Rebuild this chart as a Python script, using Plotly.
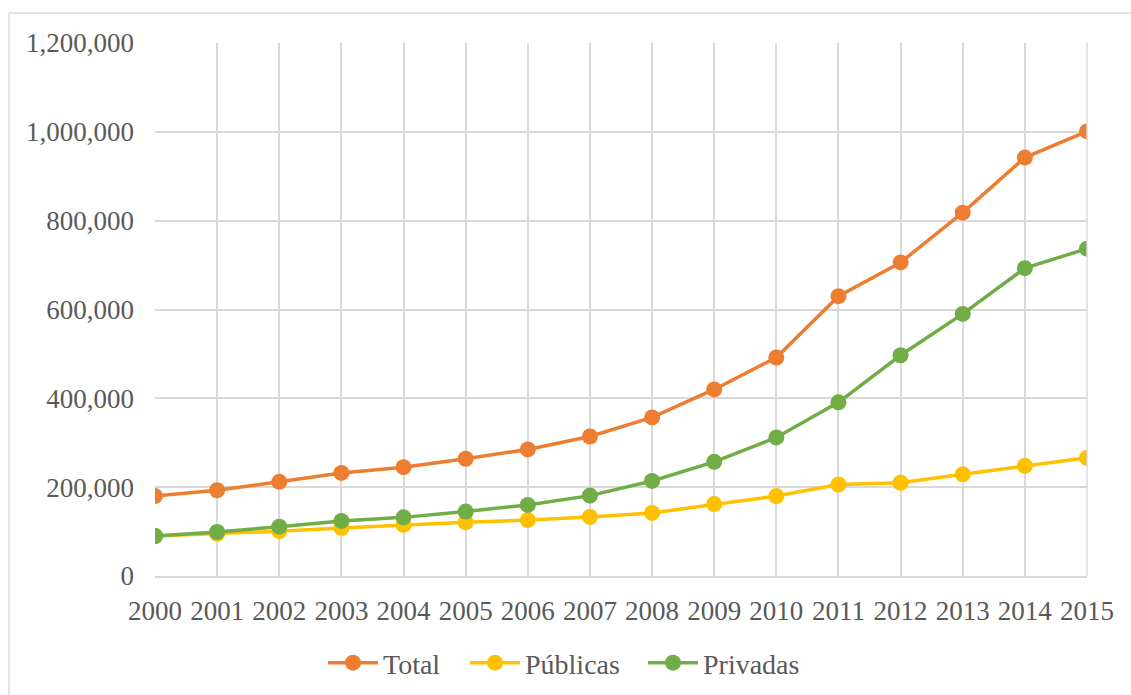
import plotly.graph_objects as go

# Matrícula por año y tipo de institución
years = list(range(2000, 2016))
total = [180000, 193000, 212000, 232000, 245000, 264000, 285000, 314000,
         357000, 420000, 492000, 630000, 706000, 818000, 942000, 1001000]
publicas = [90000, 95000, 101000, 108000, 115000, 121000, 126000, 133000,
            142000, 162000, 180000, 206000, 210000, 229000, 248000, 266000]
privadas = [90000, 99000, 111000, 124000, 132000, 145000, 160000, 181000,
            214000, 257000, 312000, 391000, 497000, 590000, 693000, 737000]
y_ticks = [0, 200000, 400000, 600000, 800000, 1000000, 1200000]

# name, values, colour, legend id, legend entry left edge (px)
series = [
    ("Total", total, "#ED7D31", "legend", 323),
    ("Públicas", publicas, "#FFC000", "legend2", 465),
    ("Privadas", privadas, "#70AD47", "legend3", 643),
]

font_family = "Liberation Serif, Times New Roman, serif"
text_color = "#595959"
grid_color = "#D9D9D9"

W, H = 1131, 695
L, R, T, B = 155, 44, 43, 119
pw, ph = W - L - R, H - T - B

def px_x(p):
    return (p - L) / pw

def px_y(p):
    return (H - B - p) / ph

fig = go.Figure()
legends = {}
for name, vals, color, leg, left in series:
    fig.add_trace(go.Scatter(
        x=years, y=vals, name=name, mode="lines+markers",
        line=dict(color=color, width=3.5),
        marker=dict(color=color, size=16),
        legend=leg,
    ))
    legends[leg] = dict(
        orientation="h", x=px_x(left), xanchor="left",
        y=px_y(663), yanchor="middle",
        font=dict(family=font_family, size=28, color=text_color),
        itemwidth=50, bgcolor="rgba(0,0,0,0)",
    )

fig.update_layout(
    width=W, height=H,
    margin=dict(l=L, r=R, t=T, b=B, autoexpand=False),
    paper_bgcolor="white", plot_bgcolor="white",
    font=dict(family=font_family, size=27, color=text_color),
    showlegend=True,
    **legends,
    xaxis=dict(
        range=[2000, 2015], tickvals=years, ticktext=[str(y) for y in years],
        showgrid=True, gridcolor=grid_color, gridwidth=1.5,
        showline=True, linecolor=grid_color, linewidth=1.5,
        zeroline=False, ticks="", ticklabelstandoff=10, automargin=False,
        tickfont=dict(family=font_family, size=27, color=text_color),
    ),
    yaxis=dict(
        range=[0, 1200000], tickvals=y_ticks, tickformat=",d",
        showgrid=True, gridcolor=grid_color, gridwidth=1.5,
        showline=False, zeroline=False, ticks="", ticklabelstandoff=20,
        automargin=False,
        tickfont=dict(family=font_family, size=27, color=text_color),
    ),
    shapes=[
        dict(type="line", xref="paper", yref="paper",
             x0=px_x(9), x1=px_x(9), y0=px_y(H + 10), y1=px_y(13),
             line=dict(color=grid_color, width=1.5)),
        dict(type="line", xref="paper", yref="paper",
             x0=px_x(9), x1=px_x(W + 10), y0=px_y(13), y1=px_y(13),
             line=dict(color=grid_color, width=1.5)),
        dict(type="line", xref="paper", yref="paper",
             x0=1, x1=1, y0=0, y1=1,
             line=dict(color=grid_color, width=1.5)),
    ],
)

fig.write_html("out.html")
